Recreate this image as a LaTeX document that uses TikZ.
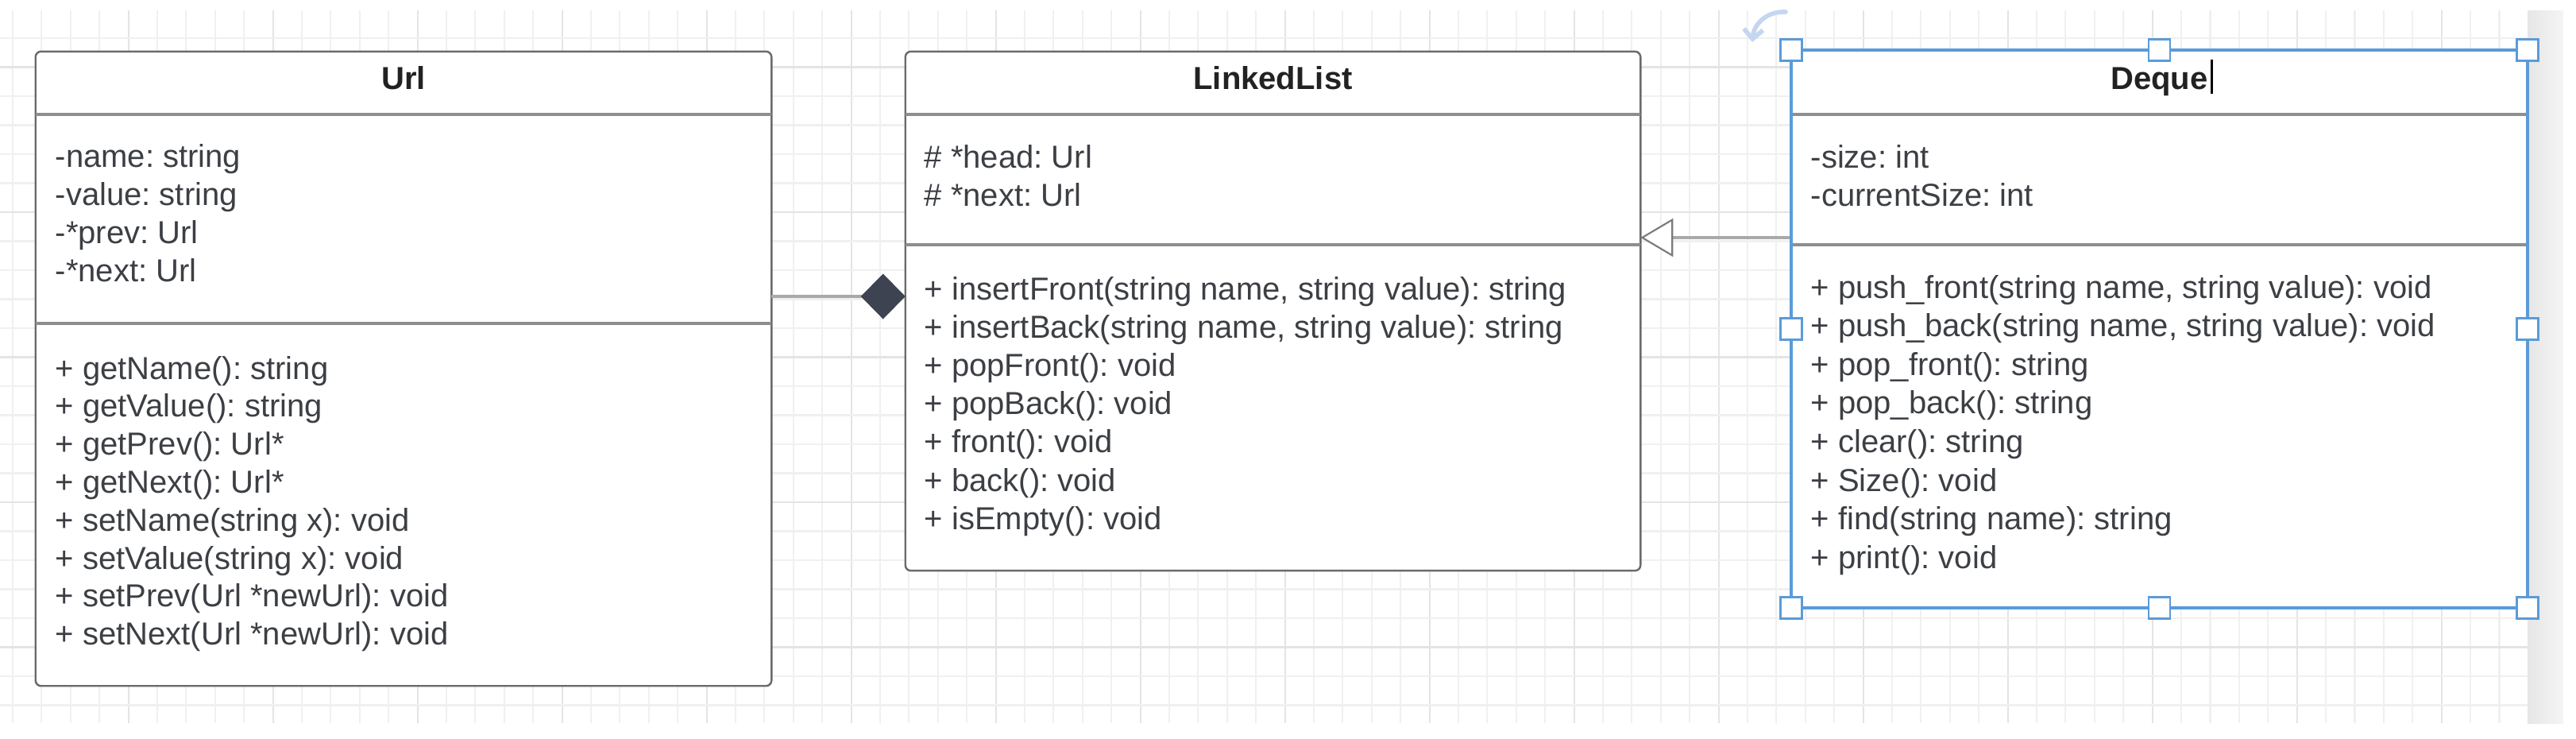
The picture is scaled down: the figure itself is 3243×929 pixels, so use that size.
\documentclass[tikz,border=0pt]{standalone}
\usepackage{fontspec}
\setmainfont{Liberation Sans}
\usetikzlibrary{arrows.meta,calc}
\definecolor{gridminor}{HTML}{F0F0F0}
\definecolor{gridmajor}{HTML}{E4E4E4}
\definecolor{boxline}{HTML}{6A6A6A}
\definecolor{divline}{HTML}{8E8E8E}
\definecolor{txtc}{HTML}{3C3F44}
\definecolor{titlec}{HTML}{222222}
\definecolor{conncol}{HTML}{A9A9A9}
\definecolor{diam}{HTML}{3D4350}
\definecolor{trig}{HTML}{7A7A7A}
\definecolor{selblue}{HTML}{5B9BD8}
\definecolor{rotblue}{HTML}{C4D6F0}
\frenchspacing
\begin{document}
\begin{tikzpicture}[x=0.01cm, y=-0.01cm,
  classbox/.style={draw=boxline, line width=0.7pt, fill=white, rounded corners=0.07cm, inner sep=0, outer sep=0},
  selbox/.style={draw=selblue, line width=1.1pt, fill=white, inner sep=0, outer sep=0},
  divider/.style={draw=divline, line width=0.9pt},
  member/.style={font=\fontsize{11.38pt}{13.66pt}\selectfont, text=txtc, anchor=base west, inner sep=0},
  classtitle/.style={font=\fontsize{11.38pt}{13.66pt}\selectfont\bfseries, text=titlec, anchor=base, inner sep=0},
  connline/.style={draw=conncol, line width=1.1pt},
  selhandle/.style={draw=selblue, line width=0.8pt, fill=white, minimum size=0.27cm, inner sep=0, outer sep=0},
]
\useasboundingbox (0,0) rectangle (3243,929);
\fill[white] (0,0) rectangle (3243,929);
% grid
\foreach \k in {0,...,86} {
  \pgfmathsetmacro\gx{16+36.4*\k}
  \pgfmathtruncatemacro\m{mod(\k,5)}
  \ifnum\m=4
    \draw[gridmajor, line width=0.6pt] (\gx,13) -- (\gx,910);
  \else
    \draw[gridminor, line width=0.6pt] (\gx,13) -- (\gx,910);
  \fi
}
\foreach \k in {0,...,23} {
  \pgfmathsetmacro\gy{48+36.5*\k}
  \pgfmathtruncatemacro\m{mod(\k,5)}
  \ifnum\m=1
    \draw[gridmajor, line width=0.6pt] (0,\gy) -- (3182,\gy);
  \else
    \draw[gridminor, line width=0.6pt] (0,\gy) -- (3182,\gy);
  \fi
}
\shade[left color=black!10, right color=black!4] (3182,13) rectangle (3227,910);

% Url
\node[classbox, minimum width=9.26cm, minimum height=7.98cm] (url) at (508,464) {};
\draw[divider] (url.west |- 0,144) -- (url.east |- 0,144);
\draw[divider] (url.west |- 0,407) -- (url.east |- 0,407);
\node[classtitle] (urlt) at (url.center |- 0,112) {Url};
\foreach \t [count=\i from 0] in {-name: string, -value: string, -*prev: Url, -*next: Url}
  \node[member] (ua\i) at (69, 210+48*\i) {\t};
\foreach \t [count=\i from 0] in {+ getName(): string, + getValue(): string, + getPrev(): Url*, + getNext(): Url*, + setName(string x): void, + setValue(string x): void, + setPrev(Url *newUrl): void, + setNext(Url *newUrl): void}
  \node[member] (um\i) at (69, 477+47.8*\i) {\t};

% LinkedList
\node[classbox, minimum width=9.25cm, minimum height=6.53cm] (ll) at (1602.5,391.5) {};
\draw[divider] (ll.west |- 0,144) -- (ll.east |- 0,144);
\draw[divider] (ll.west |- 0,308) -- (ll.east |- 0,308);
\node[classtitle] (llt) at (ll.center |- 0,112) {LinkedList};
\foreach \t [count=\i from 0] in {\# *head: Url, \# *next: Url}
  \node[member] (la\i) at (1163, 211+48*\i) {\t};
\foreach \t [count=\i from 0] in {{+ insertFront(string name, string value): string}, {+ insertBack(string name, string value): string}, + popFront(): void, + popBack(): void, + front(): void, + back(): void, + isEmpty(): void}
  \node[member] (lm\i) at (1163, 377+48.2*\i) {\t};

% Deque (selected)
\node[selbox, minimum width=9.27cm, minimum height=7.02cm] (dq) at (2718.5,414) {};
\draw[divider] (dq.west |- 0,144) -- (dq.east |- 0,144);
\draw[divider] (dq.west |- 0,308) -- (dq.east |- 0,308);
\node[classtitle] (dqt) at (dq.center |- 0,112) {Deque};
\draw[black, line width=0.8pt] ($(dqt.base east)+(4,-37)$) -- ($(dqt.base east)+(4,6)$);
\foreach \t [count=\i from 0] in {-size: int, -currentSize: int}
  \node[member] (da\i) at (2279, 211+48*\i) {\t};
\foreach \t [count=\i from 0] in {{+ push\_front(string name, string value): void}, {+ push\_back(string name, string value): void}, + pop\_front(): string, + pop\_back(): string, + clear(): string, + Size(): void, + find(string name): string, + print(): void}
  \node[member] (dm\i) at (2279, 375+48.6*\i) {\t};

% connectors
\draw[connline, -{Diamond[length=0.56cm, width=0.57cm, color=diam, fill=diam]}] (url.east |- 0,373) -- (ll.west |- 0,373);
\draw[connline, -{Triangle[length=0.41cm, width=0.48cm, fill=white, color=trig, line width=0.6pt]}] (dq.west |- 0,299) -- (ll.east |- 0,299);

% selection handles
\draw[selblue, line width=1.1pt] (dq.north west) rectangle (dq.south east);
\foreach \a [count=\i] in {north west,north,north east,west,east,south west,south,south east}
  \node[selhandle] (h\i) at (dq.\a) {};
\draw[rotblue, line width=1.6pt, line cap=round, -{Straight Barb[length=0.12cm, width=0.24cm]}] (2248,15) .. controls (2224,14) and (2208,30) .. (2206,53);
\end{tikzpicture}
\end{document}
